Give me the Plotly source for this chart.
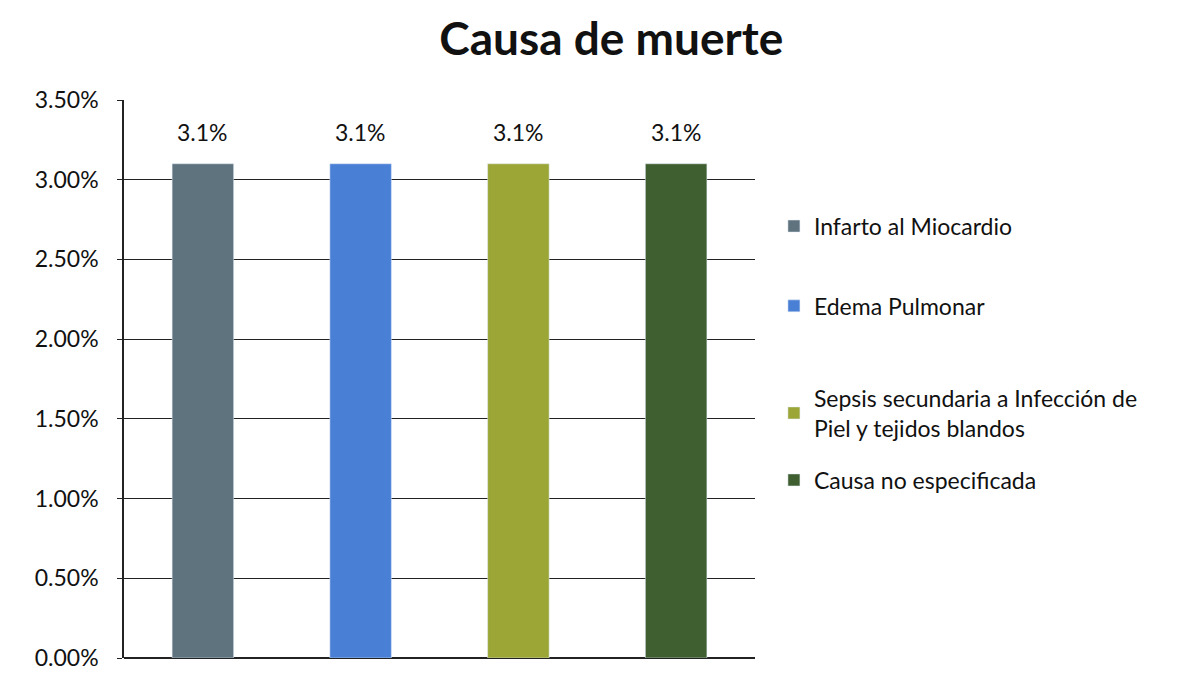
import plotly.graph_objects as go

causas = ["Infarto al Miocardio", "Edema Pulmonar",
          "Sepsis secundaria a Infección de<br>Piel y tejidos blandos",
          "Causa no especificada"]
porcentajes = [3.1, 3.1, 3.1, 3.1]
colores = ["#5f737e", "#4a7fd6", "#9ba636", "#3f5f30"]
etiquetas = ["3.1%", "3.1%", "3.1%", "3.1%"]
ticks = [0, 0.5, 1.0, 1.5, 2.0, 2.5, 3.0, 3.5]
tick_text = ["0.00%", "0.50%", "1.00%", "1.50%", "2.00%", "2.50%", "3.00%", "3.50%"]

# vertical spot of each legend entry (paper fraction)
legend_y = [0.774, 0.631, 0.439, 0.319]

fig = go.Figure()
for i, (c, v, col) in enumerate(zip(causas, porcentajes, colores)):
    fig.add_trace(go.Bar(
        x=[i], y=[v], name=c, marker_color=col, width=0.39,
        showlegend=True,
        legend="legend" if i == 0 else f"legend{i+1}",
    ))
    fig.add_annotation(x=i, y=v, text=etiquetas[i], showarrow=False,
                       yanchor="bottom", yshift=16,
                       font=dict(size=23, color="#111"))

legend_style = dict(x=1.03, xanchor="left", yanchor="middle",
                    font=dict(size=23, color="#111"), bgcolor="rgba(0,0,0,0)",
                    itemwidth=30)
layout_legends = {}
for i, ly in enumerate(legend_y):
    key = "legend" if i == 0 else f"legend{i+1}"
    layout_legends[key] = dict(legend_style, y=ly)

fig.update_layout(
    title=dict(text="<b>Causa de muerte</b>", x=0.504, xanchor="center",
               y=0.955, yanchor="middle", font=dict(size=46, color="#111")),
    font=dict(family="Lato, Open Sans, sans-serif"),
    barmode="overlay",
    showlegend=True,
    width=1197, height=681,
    margin=dict(l=116, r=450, t=92, b=31),
    plot_bgcolor="white", paper_bgcolor="white",
    xaxis=dict(range=[-0.5, 3.5], showticklabels=False, showgrid=False,
               zeroline=False, showline=False, fixedrange=True),
    yaxis=dict(range=[0, 3.5], tickvals=ticks, ticktext=tick_text,
               showgrid=True, gridcolor="#222", gridwidth=1.2,
               showline=True, linecolor="#222", linewidth=1.5,
               ticks="outside", ticklen=5, tickcolor="#222",
               ticklabelstandoff=14,
               zeroline=True, zerolinecolor="#222", zerolinewidth=1.5,
               tickfont=dict(size=23, color="#111")),
    **layout_legends,
)

fig.write_html("out.html")
